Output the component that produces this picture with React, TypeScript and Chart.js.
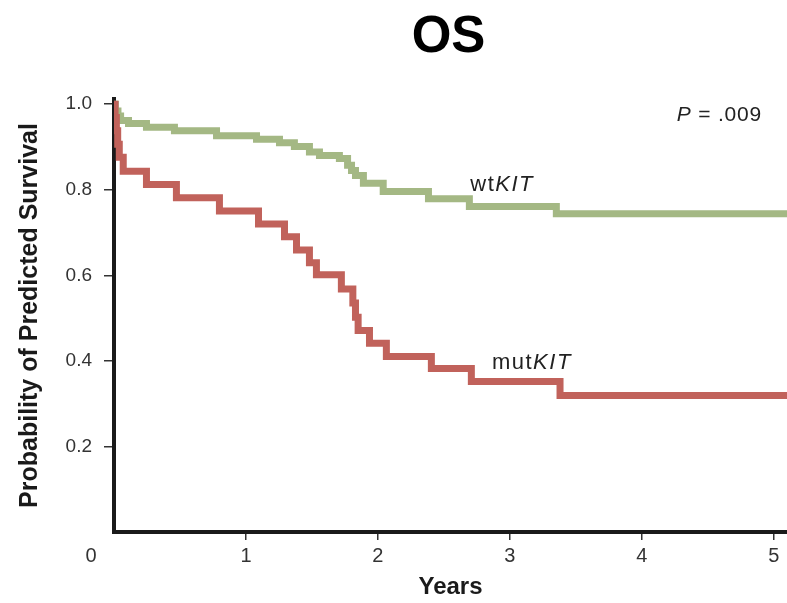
import React, { useEffect, useRef } from "react";
import { Chart, registerables } from "chart.js";

Chart.register(...registerables);

// ---- data ----
const mutTimes = [0, 0.008, 0.018, 0.028, 0.04, 0.07, 0.246, 0.473, 0.799, 1.095, 1.292, 1.383, 1.481, 1.534, 1.723, 1.81, 1.83, 1.85, 1.936, 2.064, 2.405, 2.708, 3.38, 5.1];
const mutSurv = [1.0, 0.969, 0.938, 0.906, 0.876, 0.843, 0.812, 0.781, 0.75, 0.72, 0.69, 0.659, 0.629, 0.601, 0.568, 0.535, 0.502, 0.471, 0.441, 0.41, 0.382, 0.352, 0.319, 0.319];

const wtTimes = [0, 0.01, 0.03, 0.05, 0.11, 0.246, 0.458, 0.777, 1.08, 1.254, 1.367, 1.481, 1.557, 1.708, 1.77, 1.8, 1.83, 1.89, 2.04, 2.383, 2.693, 3.352, 5.1];
const wtSurv = [1.0, 0.984, 0.972, 0.962, 0.955, 0.946, 0.938, 0.926, 0.918, 0.91, 0.901, 0.888, 0.88, 0.873, 0.857, 0.845, 0.833, 0.815, 0.796, 0.779, 0.761, 0.744, 0.744];

const xTicks = [1, 2, 3, 4, 5];
const yTicks = [0.2, 0.4, 0.6, 0.8, 1.0];

const titleText = "OS";
const xTitle = "Years";
const yTitle = "Probability of Predicted Survival";
const pLabel = ["P", " = .009"]; // italic, normal
const pLabelPos = [4.265, 0.961];
const wtLabel = ["wt", "KIT"]; // normal, italic
const wtLabelPos = [2.7, 0.798];
const mutLabel = ["mut", "KIT"];
const mutLabelPos = [2.864, 0.38];

const FONT = '"Liberation Sans", Arial, Helvetica, sans-serif';
const RED = "#c1625b";
const GREEN = "#a4b884";

function drawRich(ctx: CanvasRenderingContext2D, parts: { t: string; italic: boolean }[], x: number, y: number, size: number, spacing: number) {
  let cx = x;
  (ctx as any).letterSpacing = `${spacing}px`;
  for (const p of parts) {
    ctx.font = `${p.italic ? "italic " : ""}${size}px ${FONT}`;
    ctx.fillText(p.t, cx, y);
    cx += ctx.measureText(p.t).width;
  }
  (ctx as any).letterSpacing = "0px";
}

const annotPlugin = {
  id: "annot",
  afterDraw(chart: any) {
    const ctx: CanvasRenderingContext2D = chart.ctx;
    const xs = chart.scales.x;
    const ys = chart.scales.y;
    const area = chart.chartArea;
    ctx.save();
    // Title
    ctx.fillStyle = "#000";
    ctx.textAlign = "center";
    ctx.textBaseline = "alphabetic";
    ctx.font = `bold 51px ${FONT}`;
    ctx.fillText(titleText, (area.left + area.right) / 2 - 2, 52);

    // Labels
    ctx.textAlign = "left";
    ctx.fillStyle = "#222";
    drawRich(ctx, [{ t: pLabel[0], italic: true }, { t: pLabel[1], italic: false }], xs.getPixelForValue(pLabelPos[0]), ys.getPixelForValue(pLabelPos[1]), 21, 0.8);
    drawRich(ctx, [{ t: wtLabel[0], italic: false }, { t: wtLabel[1], italic: true }], xs.getPixelForValue(wtLabelPos[0]), ys.getPixelForValue(wtLabelPos[1]), 22, 1.5);
    drawRich(ctx, [{ t: mutLabel[0], italic: false }, { t: mutLabel[1], italic: true }], xs.getPixelForValue(mutLabelPos[0]), ys.getPixelForValue(mutLabelPos[1]), 22, 1.5);

    // Origin "0" label, aligned with the x tick labels
    const items = xs.getLabelItems();
    if (items && items.length) {
      const it = items[0];
      ctx.font = it.font.string;
      ctx.fillStyle = "#333";
      ctx.textAlign = "center";
      ctx.textBaseline = it.options.textBaseline;
      ctx.fillText("0", xs.getPixelForValue(0) - 23, it.options.translation[1] + it.textOffset);
    }
    ctx.restore();
  },
};

export default function App() {
  const ref = useRef<HTMLCanvasElement>(null);
  useEffect(() => {
    document.body.style.margin = "0";
    document.body.style.background = "#fff";
    const toPts = (t: number[], s: number[]) => t.map((v, i) => ({ x: v, y: s[i] }));
    const chart = new Chart(ref.current as HTMLCanvasElement, {
      type: "line",
      data: {
        datasets: [
          {
            label: "mutKIT",
            data: toPts(mutTimes, mutSurv),
            borderColor: RED,
            backgroundColor: RED,
            borderWidth: 7,
            stepped: "before",
            pointRadius: 0,
            fill: false,
            borderJoinStyle: "miter",
            borderCapStyle: "butt",
          },
          {
            label: "wtKIT",
            data: toPts(wtTimes, wtSurv),
            borderColor: GREEN,
            backgroundColor: GREEN,
            borderWidth: 7,
            stepped: "before",
            pointRadius: 0,
            fill: false,
            borderJoinStyle: "miter",
            borderCapStyle: "butt",
          },
        ],
      },
      options: {
        animation: false,
        responsive: false,
        devicePixelRatio: 1,
        layout: { padding: { top: 99, left: 0, right: 0, bottom: 0 } },
        plugins: { legend: { display: false }, title: { display: false }, tooltip: { enabled: false } },
        scales: {
          x: {
            type: "linear",
            min: 0,
            max: 5.1,
            z: 1,
            afterBuildTicks: (s: any) => {
              s.ticks = xTicks.map((v) => ({ value: v }));
            },
            afterFit: (s: any) => {
              s.height = 71;
            },
            ticks: {
              color: "#333",
              font: { size: 20, family: FONT },
              padding: 4,
              autoSkip: false,
              maxRotation: 0,
              callback: (v: any) => String(v),
            },
            grid: { display: true, drawOnChartArea: false, drawTicks: true, tickLength: 8, color: "#333", lineWidth: 1.5 },
            border: { display: true, color: "#1a1a1a", width: 4 },
            title: {
              display: true,
              text: xTitle,
              color: "#1a1a1a",
              font: { size: 24, weight: "bold", family: FONT },
              padding: { top: 0, bottom: 1 },
            },
          },
          y: {
            type: "linear",
            min: 0,
            max: 1.012,
            z: 1,
            afterBuildTicks: (s: any) => {
              s.ticks = yTicks.map((v) => ({ value: v }));
            },
            afterFit: (s: any) => {
              s.width = 114;
            },
            ticks: {
              color: "#333",
              font: { size: 19, family: FONT },
              padding: 12,
              callback: (v: any) => Number(v).toFixed(1),
            },
            grid: { display: true, drawOnChartArea: false, drawTicks: true, tickLength: 10, color: "#333", lineWidth: 1.5 },
            border: { display: true, color: "#1a1a1a", width: 4 },
            title: {
              display: true,
              text: yTitle,
              color: "#1a1a1a",
              font: { size: 25, weight: "bold", family: FONT },
              padding: { top: 15, bottom: 0 },
            },
          },
        },
      },
      plugins: [annotPlugin],
    } as any);
    return () => chart.destroy();
  }, []);
  return (
    <div style={{ width: 787, height: 603 }}>
      <canvas ref={ref} width={787} height={603} style={{ display: "block", width: 787, height: 603 }} />
    </div>
  );
}
